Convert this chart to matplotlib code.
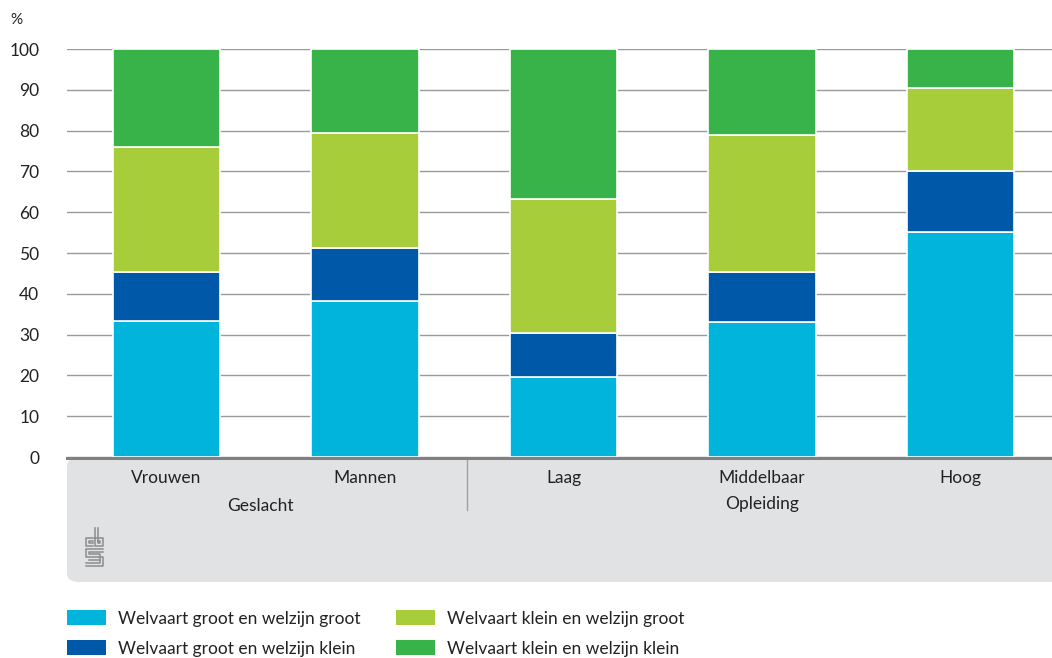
import matplotlib
matplotlib.use("Agg")
import matplotlib.pyplot as plt
from matplotlib.patches import FancyBboxPatch, Rectangle
import numpy as np

categories = ["Vrouwen", "Mannen", "Laag", "Middelbaar", "Hoog"]
groups = ["Geslacht", "Opleiding"]
series_names = ["Welvaart groot en welzijn groot", "Welvaart groot en welzijn klein",
                "Welvaart klein en welzijn groot", "Welvaart klein en welzijn klein"]
s1 = [33.3, 38.3, 19.6, 33.2, 55.1]
s2 = [12.0, 13.0, 10.7, 12.1, 15.1]
s3 = [30.7, 28.2, 32.9, 33.7, 20.3]
s4 = [24.0, 20.5, 36.8, 21.0, 9.5]
colors = ["#00b4dc", "#0058a8", "#a8cd3a", "#38b34a"]
yticks = [0, 10, 20, 30, 40, 50, 60, 70, 80, 90, 100]

plt.rcParams['font.family'] = ['Lato', 'DejaVu Sans']
W, H = 1052, 658
fig = plt.figure(figsize=(W/100, H/100), dpi=100)

ax_l, ax_r, ax_b, ax_t = 67, 1052, 457, 49
ax = fig.add_axes([ax_l/W, 1-ax_b/H, (ax_r-ax_l)/W, (ax_b-ax_t)/H])

x = np.arange(len(categories))
bottom = np.zeros(len(categories))
for vals, c, name in zip([s1, s2, s3, s4], colors, series_names):
    ax.bar(x, vals, bottom=bottom, width=0.54, color=c, edgecolor="white",
           linewidth=1.2, label=name, zorder=3)
    bottom += np.array(vals)

ax.set_ylim(0, 100)
ax.set_xlim(-0.5, 4.46)
ax.set_yticks(yticks)
ax.set_yticklabels([str(v) for v in yticks], fontsize=12.5, color="#222222")
ax.tick_params(axis='y', length=0, pad=20)
ax.set_xticks([])
for s in ["top", "right", "left", "bottom"]:
    ax.spines[s].set_visible(False)
ax.grid(axis='y', color="#9a9a9a", linewidth=1.0, zorder=0)
ax.set_axisbelow(True)

# gray panel below axis
panel = FancyBboxPatch((ax_l/W, 1-582/H), (ax_r-ax_l)/W + 0.02, (582-458)/H,
                       boxstyle="round,pad=0,rounding_size=0.012",
                       transform=fig.transFigure, facecolor="#e1e2e4",
                       edgecolor="none", zorder=0)
fig.add_artist(panel)
fig.add_artist(plt.Line2D([ax_l/W, 1], [1-457.5/H, 1-457.5/H], color="#808080",
                          linewidth=2.2, transform=fig.transFigure))
fig.add_artist(plt.Line2D([467/W, 467/W], [1-460/H, 1-510/H], color="#a0a0a0",
                          linewidth=1.0, transform=fig.transFigure))

# category labels
for xi, lab in zip(x, categories):
    fig.text((ax_l + (xi + 0.5) / 4.96 * (ax_r - ax_l)) / W, 1-478/H, lab,
             ha="center", va="center", fontsize=12.5, color="#222222")
fig.text(260/W, 1-506/H, groups[0], ha="center", va="center", fontsize=12.5, color="#222222")
fig.text(762/W, 1-504/H, groups[1], ha="center", va="center", fontsize=12.5, color="#222222")

fig.text(10/W, 1-20/H, "%", ha="left", va="center", fontsize=11, color="#222222")

# simple CBS logo
lc = "#8c8c8c"
def L(xs, ys):
    fig.add_artist(plt.Line2D([v/W for v in xs], [1-v/H for v in ys], color=lc,
                              linewidth=1.1, transform=fig.transFigure))
# c
L([93, 86, 86, 93], [538, 538, 546, 546])
L([93, 89, 89, 93], [541, 541, 543, 543])
# b
L([95, 95, 103, 103, 95], [528, 546, 546, 538, 538])
L([98, 98, 100, 100, 98], [528, 543, 543, 541, 541])
# S
L([103, 86, 86, 103, 103, 86], [549, 549, 557, 557, 566, 566])
L([103, 89, 89, 100, 100, 86], [552, 552, 554, 554, 563, 563])
L([100, 89, 89], [560, 560, 560])

# legend
leg_items = [(67, 619, 0), (67, 649, 1), (396, 619, 2), (396, 649, 3)]
for lx, ly, i in leg_items:
    fig.add_artist(Rectangle((lx/W, 1-(ly+6)/H), 39/W, 15/H, facecolor=colors[i],
                             edgecolor="none", transform=fig.transFigure))
    fig.text((lx+51)/W, 1-ly/H, series_names[i], ha="left", va="center",
             fontsize=12.5, color="#222222")

fig.savefig("out.png", dpi=100)
